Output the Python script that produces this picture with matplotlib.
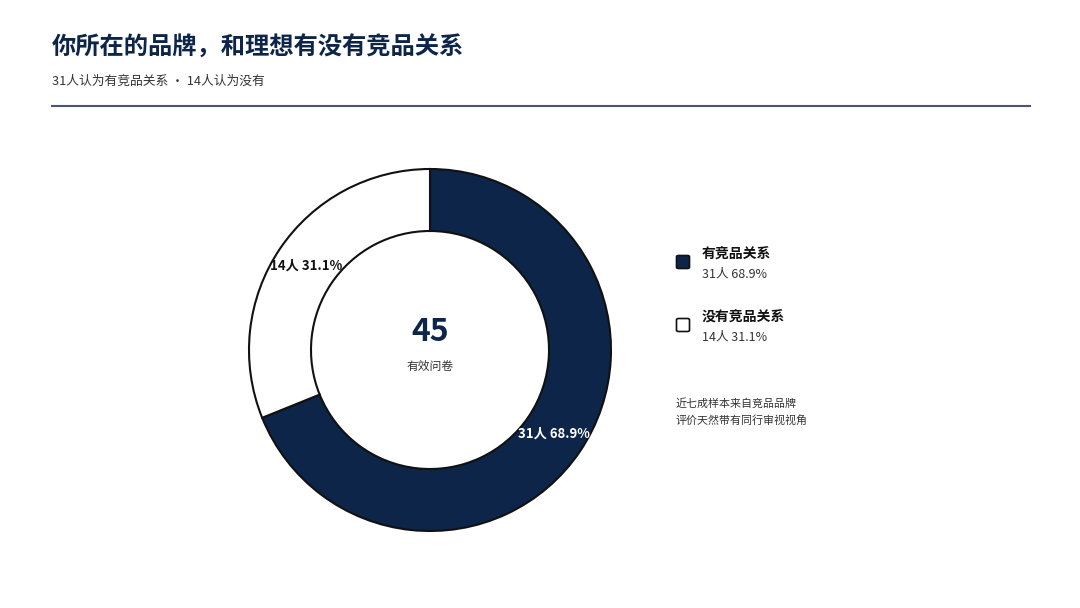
import matplotlib
matplotlib.use("Agg")
import numpy as np
import matplotlib.pyplot as plt
from matplotlib.patches import FancyBboxPatch

plt.rcParams['font.family'] = ['Noto Sans CJK SC', 'DejaVu Sans']

# data
categories = ["有竞品关系", "没有竞品关系"]
counts = [31, 14]
colors = ["#0c2548", "#ffffff"]
label_colors = ["#ffffff", "#111111"]
title = "你所在的品牌，和理想有没有竞品关系"
subtitle = "31人认为有竞品关系 · 14人认为没有"
center_label = "有效问卷"
note_lines = ["近七成样本来自竞品品牌", "评价天然带有同行审视视角"]

navy = "#0c2548"
total = sum(counts)
pcts = [c / total * 100 for c in counts]

W, H = 1080, 608
fig = plt.figure(figsize=(W / 100, H / 100), dpi=100)
fig.patch.set_facecolor("white")


def fx(x):
    return x / W


def fy(y):
    return 1 - y / H


# header
fig.text(fx(52), fy(48), title, fontsize=17.5, fontweight="bold", color=navy, va="center", ha="left")
fig.text(fx(52), fy(81), subtitle, fontsize=9.2, color="#333333", va="center", ha="left")
fig.add_artist(plt.Line2D([fx(52), fx(1030)], [fy(106), fy(106)], color="#4a5670", lw=1.5))

# donut
cx, cy, r = 430, 350, 181
pad = 1.05
size = 2 * r * pad
ax = fig.add_axes([fx(cx - size / 2), fy(cy + size / 2), size / W, size / H])
inner = 119 / 181
wedges, _ = ax.pie(counts, colors=colors, startangle=90, counterclock=False, radius=1,
                   wedgeprops=dict(width=1 - inner, edgecolor="#111111", linewidth=1.5))
ax.set_xlim(-pad, pad)
ax.set_ylim(-pad, pad)
ax.set_aspect("equal")
ax.axis("off")

mid_r = (1 + inner) / 2
for w, c, p, lc in zip(wedges, counts, pcts, label_colors):
    ang = np.deg2rad((w.theta1 + w.theta2) / 2)
    ax.text(mid_r * np.cos(ang), mid_r * np.sin(ang), f"{c}人 {p:.1f}%", fontsize=9.5,
            fontweight="bold", color=lc, ha="center", va="center")

ax.text(0, 0.1, str(total), fontsize=23, fontweight="bold", color=navy, ha="center", va="center")
ax.text(0, -0.09, center_label, fontsize=8.5, color="#333333", ha="center", va="center")

# legend
leg_y = [262, 325]
for y, cat, c, p, col in zip(leg_y, categories, counts, pcts, colors):
    s = 13
    box = FancyBboxPatch((fx(683 - s / 2), fy(y + s / 2)), s / W, s / H,
                         boxstyle="round,pad=0,rounding_size=0.002",
                         transform=fig.transFigure, facecolor=col, edgecolor="#111111", lw=1.2)
    fig.add_artist(box)
    fig.text(fx(702), fy(y - 7), cat, fontsize=10, fontweight="bold", color="#111111", va="center", ha="left")
    fig.text(fx(702), fy(y + 12), f"{c}人 {p:.1f}%", fontsize=9, color="#333333", va="center", ha="left")

for i, line in enumerate(note_lines):
    fig.text(fx(676), fy(403 + i * 17), line, fontsize=7.9, color="#333333", va="center", ha="left")

fig.savefig("out.png", dpi=100, facecolor="white")
